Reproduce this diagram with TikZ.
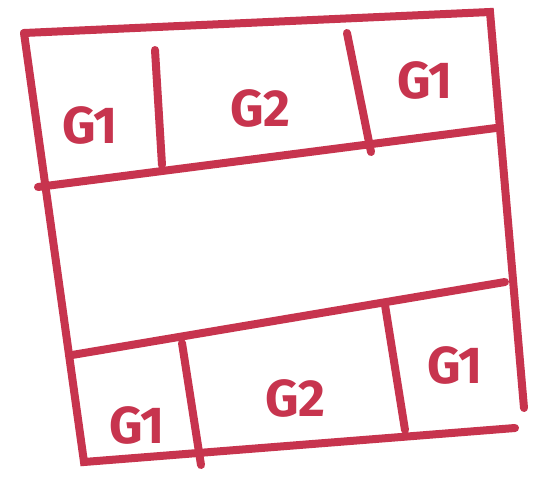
\documentclass[tikz,border=0pt]{standalone}
\usepackage{fontspec}
\setmainfont{Fira Sans}
\definecolor{marker}{HTML}{C7344E}
\tikzset{
  stroke/.style={draw=marker, line width=8pt, line cap=round},
  lbl/.style={text=marker, font=\fontsize{52}{52}\selectfont\bfseries, inner sep=0pt}
}
\begin{document}
\begin{tikzpicture}[x=1pt,y=-1pt]
\useasboundingbox[fill=white] (0,0) rectangle (547,485);
% corners and line ends
\coordinate (tl) at (24,33);
\coordinate (tr) at (490,12);
\coordinate (br) at (524,408);
\coordinate (bl) at (84,462);
\coordinate (bre) at (515,428);
\coordinate (m1l) at (38,187);
\coordinate (m1r) at (496,128);
\coordinate (m2l) at (72,355);
\coordinate (m2r) at (505,282);
\coordinate (d1a) at (155,50);
\coordinate (d1b) at (162,165);
\coordinate (d2a) at (347,33);
\coordinate (d2b) at (371,152);
\coordinate (d3a) at (182,343);
\coordinate (d3b) at (201,465);
\coordinate (d4a) at (385,305);
\coordinate (d4b) at (405,430);
% outer frame
\draw[stroke] (tl) -- (tr) -- (br);
\draw[stroke] (tl) -- (bl) -- (bre);
% horizontal divisions
\draw[stroke] (m1l) -- (m1r);
\draw[stroke] (m2l) -- (m2r);
% vertical dividers
\draw[stroke] (d1a) -- (d1b);
\draw[stroke] (d2a) -- (d2b);
\draw[stroke] (d3a) -- (d3b);
\draw[stroke] (d4a) -- (d4b);
% labels
\node[lbl] (t1) at (90,125) {G1};
\node[lbl] (t2) at (260,108) {G2};
\node[lbl] (t3) at (425,80) {G1};
\node[lbl] (b1) at (137,425) {G1};
\node[lbl] (b2) at (295,398) {G2};
\node[lbl] (b3) at (455,365) {G1};
\end{tikzpicture}
\end{document}
